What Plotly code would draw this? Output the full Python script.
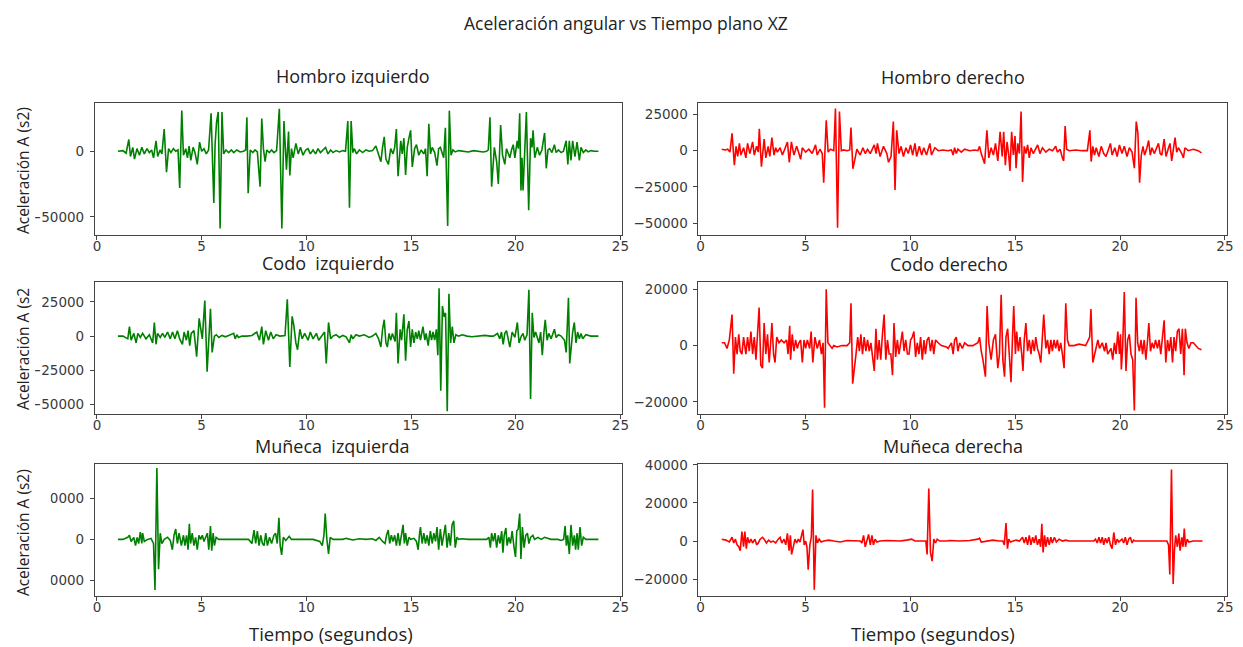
import plotly.graph_objects as go

# ---------------- datos: tiempo (s) y aceleración angular, plano XZ ----------------
t_hombro_izq = [1.00, 1.24, 1.39, 1.52, 1.60, 1.71, 1.79, 1.91, 2.03, 2.14, 2.26, 2.39, 2.50, 2.61, 2.70, 2.82, 2.90, 3.01, 3.10, 3.21,
                3.32, 3.42, 3.53, 3.65, 3.76, 3.87, 3.95, 4.05, 4.13, 4.24, 4.32, 4.40, 4.48, 4.59, 4.68, 4.79, 4.90, 5.00, 5.11, 5.22,
                5.33, 5.45, 5.58, 5.64, 5.71, 5.79, 5.88, 5.97, 6.05, 6.16, 6.29, 6.42, 6.53, 6.68, 6.84, 7.00, 7.10, 7.16, 7.22, 7.32,
                7.44, 7.55, 7.66, 7.79, 7.87, 7.95, 8.03, 8.11, 8.23, 8.34, 8.45, 8.58, 8.71, 8.83, 8.93, 9.05, 9.15, 9.21, 9.29, 9.37,
                9.50, 9.61, 9.72, 9.84, 9.97, 10.08, 10.19, 10.32, 10.44, 10.56, 10.67, 10.79, 10.92, 11.03, 11.16, 11.27, 11.42, 11.58,
                11.74, 11.87, 11.98, 12.06, 12.14, 12.22, 12.29, 12.40, 12.53, 12.69, 12.85, 13.00, 13.16, 13.32, 13.45, 13.56, 13.64,
                13.72, 13.80, 13.92, 14.03, 14.14, 14.22, 14.30, 14.38, 14.51, 14.58, 14.66, 14.74, 14.82, 14.90, 14.98, 15.06, 15.17,
                15.26, 15.37, 15.48, 15.61, 15.69, 15.77, 15.85, 15.93, 16.01, 16.13, 16.24, 16.32, 16.40, 16.48, 16.56, 16.64, 16.75,
                16.83, 16.91, 17.00, 17.11, 17.27, 17.51, 17.74, 17.98, 18.22, 18.45, 18.61, 18.69, 18.77, 18.85, 18.98, 19.09, 19.17,
                19.28, 19.37, 19.48, 19.56, 19.64, 19.72, 19.80, 19.88, 19.96, 20.07, 20.13, 20.19, 20.25, 20.30, 20.35, 20.43, 20.51,
                20.62, 20.71, 20.78, 20.83, 20.91, 21.03, 21.14, 21.25, 21.38, 21.46, 21.54, 21.62, 21.73, 21.85, 21.93, 22.04, 22.17,
                22.28, 22.41, 22.49, 22.56, 22.64, 22.72, 22.83, 22.93, 23.04, 23.12, 23.23, 23.35, 23.46, 23.59, 23.75, 23.95]
a_hombro_izq = [0, 500, -1500, 9000, -4000, 3000, -6000, 2000, -3000, 3000, -2000, 2000, -1000, 1000, -5000, 8000, -4000, 1000, -2000, 17000,
                -16000, 2000, -1000, 2000, 0, 1000, -28000, 31000, -3000, 2000, -5000, 4000, -7000, 3000, -1000, -10000, 7000, 0, 2000, -2000,
                1000, 29000, -39500, 5000, 22000, 30000, -59000, 30000, -2000, 1000, -1000, 1000, -1000, 1000, -500, 0, 1000, 26000, -32000, 1000,
                -1000, 1000, -500, -27000, 25000, 2000, -8000, 1000, -1000, 1000, -1000, 500, 32500, -59000, 23000, -14000, 15000, -18500, 2000, -5000,
                6000, -2000, 3000, -3000, 1000, 2000, -2000, 1000, -2000, 2000, -1000, 1000, 3000, -2000, 1000, -1000, 500, -500,
                500, 0, 23000, -43000, 23000, -1000, 2000, -2000, 1000, -1000, 1000, 0, 500, 4000, -2000, -8000, 3000,
                11000, -6000, -10000, 2000, -2000, 3000, 17000, -19000, 8000, -2000, 10000, -18000, 3000, 10000, 16000, -12000, 2000,
                5000, -3000, 1000, -2000, 2000, -19000, 21000, -2000, 3000, -1000, -11000, 2000, 3000, -2000, -5000, 18000, -57000,
                31000, -3000, 1000, -500, 500, 0, -500, 500, 0, -500, 0, 1000, 26000, -27000, 3000, -8000, -25000,
                20000, -3000, -10000, 2000, -1000, -5000, 1000, 5000, -5000, 8000, 2000, 29000, -30000, -5000, -30000, 8000, 30000,
                -45000, 10000, 3000, 16000, -5000, 3000, -3000, 1000, 14000, -13000, 1000, 2000, -1000, 5000, -1000, 1000, -1000,
                0, 8000, -10000, 8000, -7000, 8000, -4000, 7000, -7000, 3000, -1000, 1000, -500, 500, 0, 0]

t_hombro_der = [1.01, 1.17, 1.29, 1.40, 1.50, 1.61, 1.69, 1.77, 1.85, 1.92, 2.05, 2.16, 2.24, 2.35, 2.48, 2.56, 2.67, 2.75, 2.80, 2.90,
                3.03, 3.11, 3.22, 3.30, 3.40, 3.50, 3.58, 3.66, 3.79, 3.90, 4.01, 4.14, 4.23, 4.33, 4.45, 4.58, 4.69, 4.77, 4.85, 5.01,
                5.16, 5.32, 5.48, 5.56, 5.69, 5.80, 5.87, 5.99, 6.08, 6.19, 6.35, 6.43, 6.53, 6.62, 6.71, 6.82, 6.98, 7.11, 7.17, 7.26,
                7.37, 7.45, 7.61, 7.74, 7.85, 7.96, 8.09, 8.18, 8.28, 8.37, 8.43, 8.56, 8.72, 8.88, 8.96, 9.08, 9.19, 9.27, 9.35, 9.46,
                9.56, 9.67, 9.79, 9.90, 10.01, 10.11, 10.22, 10.30, 10.43, 10.54, 10.64, 10.77, 10.93, 11.01, 11.17, 11.33, 11.56, 11.80,
                11.96, 12.04, 12.11, 12.19, 12.27, 12.43, 12.59, 12.83, 13.07, 13.22, 13.30, 13.38, 13.54, 13.65, 13.74, 13.85, 13.96,
                14.06, 14.17, 14.28, 14.38, 14.45, 14.53, 14.61, 14.69, 14.75, 14.83, 14.91, 14.99, 15.04, 15.12, 15.20, 15.28, 15.35,
                15.43, 15.51, 15.59, 15.67, 15.75, 15.86, 15.96, 16.07, 16.18, 16.30, 16.46, 16.62, 16.78, 16.93, 17.01, 17.14, 17.25,
                17.31, 17.38, 17.45, 17.57, 17.88, 18.19, 18.44, 18.56, 18.62, 18.70, 18.78, 18.86, 18.99, 19.10, 19.22, 19.33, 19.46,
                19.54, 19.62, 19.75, 19.86, 19.97, 20.09, 20.20, 20.33, 20.44, 20.57, 20.68, 20.77, 20.85, 20.93, 21.01, 21.09, 21.17,
                21.28, 21.36, 21.44, 21.52, 21.63, 21.75, 21.83, 21.91, 21.99, 22.10, 22.19, 22.31, 22.38, 22.46, 22.54, 22.62, 22.70,
                22.78, 22.94, 23.02, 23.09, 23.25, 23.49, 23.72, 23.88]
a_hombro_der = [1000, 500, 1000, -1000, 12000, -10000, 3000, -4000, 5000, -3000, 2000, -5000, 5000, -2000, 6000, -3000, 3000, -1000, 15000, -11000,
                8000, -5000, 3000, -4000, 9000, -3000, 2000, -1000, 2000, -3000, 1000, 6000, -8000, 6000, -3000, 3000, -2000, -6000, 2000, -1000,
                1000, -2000, 4000, -3000, 1000, -2000, -22000, 21000, -1000, 1000, 0, 29000, -53000, 27000, 0, 500, 0, 500, 16000, -12500,
                -5000, 1000, -3000, 2000, -2000, 1000, -2000, 1000, 4000, -2000, 5000, -4000, 3000, -2000, -8000, -4000, 20000, -27000, 14000, -2000,
                3000, -4000, 2000, -2000, 4000, -3000, 5000, -4000, 3000, -3000, 2000, -3000, 5000, -3000, 2000, 0, 500, 0,
                500, -3000, 2000, -2000, 1000, -1000, 1000, 0, 500, 0, 3000, -2000, -9000, 14000, -5000, 2000, -3000,
                5000, -7000, 13000, -4000, 13000, -10000, 6000, -3000, -14000, 13000, -3000, 10000, -12000, 5000, -2000, 27000, -21500,
                3000, -2000, 4000, -5000, 2000, -2000, 1000, 4000, -2000, 2000, -1000, 1000, 0, 3000, -1000, 1000, -5000,
                -7000, 17000, 1000, 0, 500, 0, 0, 14000, -7500, 3000, -3000, 2000, -4000, 3000, -2000, -4000, 2000,
                5000, -3000, 2000, -4000, 4000, -2000, 3000, -4000, 2000, -1000, -12000, 20000, 12000, -22000, -3000, 3000, -3000,
                2000, 7000, -3000, 2000, -2000, 3000, 5000, -2000, -3000, 8000, -4000, 2000, 5000, -7000, 3000, 9000, -1000,
                2000, -2000, -5000, 2000, 0, 1000, 0, -1500]

t_codo_izq = [1.00, 1.24, 1.47, 1.55, 1.63, 1.76, 1.87, 1.95, 2.07, 2.18, 2.34, 2.50, 2.66, 2.74, 2.82, 2.89, 3.02, 3.13, 3.24, 3.37,
              3.50, 3.61, 3.72, 3.84, 3.95, 4.08, 4.16, 4.27, 4.35, 4.43, 4.50, 4.63, 4.76, 4.88, 5.03, 5.15, 5.26, 5.34, 5.42, 5.50,
              5.61, 5.70, 5.82, 5.97, 6.13, 6.29, 6.53, 6.60, 6.68, 6.76, 6.92, 7.16, 7.40, 7.63, 7.76, 7.87, 7.95, 8.06, 8.19, 8.30,
              8.42, 8.55, 8.74, 8.98, 9.09, 9.21, 9.32, 9.40, 9.50, 9.58, 9.69, 9.80, 9.92, 10.08, 10.19, 10.32, 10.48, 10.59, 10.71,
              10.87, 10.95, 11.06, 11.16, 11.27, 11.42, 11.58, 11.74, 11.90, 12.06, 12.14, 12.22, 12.37, 12.53, 12.77, 13.00, 13.16,
              13.32, 13.45, 13.56, 13.64, 13.72, 13.80, 13.87, 13.95, 14.03, 14.11, 14.24, 14.30, 14.38, 14.48, 14.55, 14.66, 14.74,
              14.82, 14.90, 14.98, 15.06, 15.14, 15.22, 15.30, 15.37, 15.45, 15.57, 15.66, 15.72, 15.82, 15.90, 15.98, 16.05, 16.13,
              16.21, 16.28, 16.34, 16.42, 16.50, 16.58, 16.65, 16.73, 16.81, 16.89, 16.97, 17.05, 17.14, 17.27, 17.46, 17.67, 17.90,
              18.22, 18.53, 18.77, 18.93, 19.04, 19.13, 19.24, 19.32, 19.40, 19.48, 19.56, 19.64, 19.72, 19.83, 19.96, 20.08, 20.16,
              20.27, 20.35, 20.43, 20.54, 20.63, 20.71, 20.79, 20.87, 20.95, 21.03, 21.11, 21.19, 21.27, 21.35, 21.41, 21.50, 21.58,
              21.69, 21.85, 21.93, 22.04, 22.17, 22.33, 22.41, 22.45, 22.52, 22.58, 22.64, 22.72, 22.80, 22.88, 22.96, 23.04, 23.12,
              23.20, 23.35, 23.59, 23.95]
a_codo_izq = [0, 0, -2000, 7000, -3000, 2000, -5000, 2000, -1000, 2000, -2000, 1000, -5000, 10000, -6000, 2000, -1000, 2000, -1000, 3000,
              -2000, 3000, -2000, 4000, -2000, -6000, 3000, -3000, 4000, -7000, 2000, 4000, -15000, 13000, -2000, 26000, -26000, -5000, 20000, -12000,
              0, 1000, -1000, 500, -500, 500, 2000, -2000, 1000, -1000, 0, 0, 500, 3000, -3000, 7000, -6000, 4000, -3000, 3000,
              -2000, 1000, 0, 500, 27000, -22500, 14500, 8000, -5000, -10000, 5000, -2000, 2000, -3000, 3000, -2000, 2000, -3000, 0,
              3000, -20000, 10000, -2000, 0, 1000, -1000, 500, -500, -5000, 1000, -2000, 1000, 0, 1000, -1000, 0,
              2000, -2000, -8000, 5000, 12000, -5000, -8000, 2000, -3000, 2000, -4000, 17000, -20000, 5000, -3000, 16000, -18000,
              5000, 11000, -8000, 5000, -5000, 3000, -2000, 4000, -3000, 7000, -3000, 2000, -7000, 4000, -3000, 3000, -3000,
              5000, -14000, 35000, -40000, 22000, 14000, 17000, -55000, 31000, -5000, 7000, -5000, 1000, 0, 1000, 0, -500,
              0, 500, 0, 0, 1000, 2000, -2000, 3000, -6000, 2000, 4000, -3000, -8000, 3000, -1000, 10000, -5000,
              0, 2000, -3000, 1000, 34000, -46000, 17000, -1000, 3000, -2000, -5000, 3000, -14000, 3000, 12000, -3000, 2000,
              -2000, 5000, -1000, 1000, 0, -3000, -12000, 5000, 28000, -20000, -9000, 3000, 10000, -5000, 3000, -2000, 2000,
              -2000, 1000, 0, 0]

t_codo_der = [1.01, 1.14, 1.26, 1.37, 1.50, 1.58, 1.66, 1.74, 1.82, 1.89, 1.97, 2.05, 2.16, 2.24, 2.32, 2.40, 2.48, 2.56, 2.64, 2.71,
              2.79, 2.87, 2.95, 3.03, 3.11, 3.19, 3.27, 3.35, 3.40, 3.48, 3.55, 3.63, 3.74, 3.85, 3.98, 4.10, 4.17, 4.25, 4.29, 4.37,
              4.45, 4.53, 4.61, 4.69, 4.77, 4.85, 4.93, 5.01, 5.09, 5.20, 5.27, 5.35, 5.45, 5.56, 5.67, 5.76, 5.84, 5.91, 5.99, 6.07,
              6.16, 6.27, 6.35, 6.51, 6.74, 6.98, 7.11, 7.17, 7.25, 7.33, 7.41, 7.49, 7.57, 7.64, 7.72, 7.80, 7.88, 7.96, 8.04, 8.12,
              8.20, 8.28, 8.36, 8.43, 8.51, 8.59, 8.67, 8.75, 8.83, 8.91, 8.99, 9.07, 9.15, 9.22, 9.30, 9.38, 9.46, 9.54, 9.62, 9.70,
              9.78, 9.86, 9.94, 10.01, 10.09, 10.17, 10.25, 10.33, 10.41, 10.49, 10.57, 10.65, 10.72, 10.80, 10.88, 10.96, 11.04, 11.12,
              11.20, 11.32, 11.48, 11.72, 11.80, 11.96, 12.04, 12.11, 12.19, 12.27, 12.35, 12.48, 12.59, 12.75, 12.98, 13.22, 13.30,
              13.38, 13.46, 13.58, 13.66, 13.74, 13.85, 13.96, 14.06, 14.17, 14.25, 14.33, 14.41, 14.49, 14.56, 14.64, 14.72, 14.80,
              14.88, 14.93, 15.01, 15.07, 15.15, 15.23, 15.31, 15.37, 15.43, 15.51, 15.59, 15.67, 15.75, 15.83, 15.91, 15.98, 16.06,
              16.14, 16.22, 16.30, 16.36, 16.46, 16.54, 16.62, 16.70, 16.77, 16.85, 16.93, 17.01, 17.09, 17.17, 17.25, 17.33, 17.41,
              17.49, 17.57, 17.80, 18.04, 18.36, 18.55, 18.61, 18.70, 18.78, 18.86, 18.94, 19.02, 19.15, 19.26, 19.33, 19.41, 19.49,
              19.57, 19.65, 19.73, 19.81, 19.89, 19.97, 20.02, 20.06, 20.12, 20.20, 20.28, 20.36, 20.44, 20.52, 20.60, 20.68, 20.76,
              20.84, 20.92, 21.00, 21.07, 21.15, 21.23, 21.31, 21.37, 21.45, 21.53, 21.61, 21.69, 21.78, 21.86, 21.94, 22.02, 22.10,
              22.18, 22.26, 22.34, 22.42, 22.50, 22.57, 22.65, 22.73, 22.81, 22.89, 22.97, 23.05, 23.11, 23.19, 23.28, 23.38, 23.49,
              23.60, 23.73, 23.88]
a_codo_der = [1000, 1000, -1000, 2000, 11000, -10000, 3000, -3000, 4000, -2000, -3000, 3000, -3000, 3000, -2000, 5000, -3000, 3000, -5000, 5000,
              13500, -7000, -8000, 8000, -3000, 4000, -6000, 2000, 8000, -3000, -6000, 3000, 1000, 2000, 1000, 2000, -3000, 7000, -5000, 4000,
              -2000, 2000, -1000, 1000, 2000, -6000, 2000, -1000, 2000, -1000, 5000, -6000, 3000, -1000, 2000, -3000, 1000, -22000, 20000, 1000,
              0, -1000, 0, -500, 0, 0, 1000, 15000, -13500, -7000, -3000, 3000, -2000, 4000, -3000, 3000, -2000, 2000, -2000, 1000,
              -4000, -9000, 6000, -5000, 2000, -5000, 4000, 11000, -5000, 2000, -3000, -3000, -10500, 8000, -4000, 2000, -3000, 2000, 5000, -2000,
              2000, -3000, -3000, 2000, 3000, 5000, -4000, 1000, -3000, 3000, -5000, 2000, -3000, 2000, 3000, -2000, 2000, -3000,
              2000, 1000, 0, -500, -1000, 1000, -3000, 2000, 3000, -2000, 1000, -1000, 1000, 0, 0, 1000, 3000,
              -2000, -5000, -11000, 14000, 1000, -5000, 2000, 4000, -8000, -3000, 18000, -5000, -11000, 3000, 6000, -3000, -13000,
              5000, 14000, -3000, 5000, -2000, 3000, -3000, -9000, 2000, 8000, -2000, 2000, -3000, 2000, -2000, 3000, -1000,
              -3000, -6000, 2000, 11000, -1000, 2000, -3000, 2000, -2000, 2000, -1000, 2000, -2000, 1000, -3000, -8000, 15000,
              2000, 0, 0, 500, 0, 3000, 13000, -6000, -3000, 0, 2000, -1000, 1000, -2000, 1000, -3000, -2000,
              -1000, -5000, 1000, -3000, 5000, -3000, 4000, -8500, -1000, 19000, -9000, 2000, 4000, -3000, -5000, -23000, 17000,
              1000, -2000, 2000, -3000, 2000, -5000, 2000, 8000, -2000, 1000, -1000, 2000, -1000, 2000, -3000, 2000, 9000,
              -6000, 2000, -2000, 3000, -6000, 3000, -2000, 5000, 6000, -3000, 6000, -10500, 6000, 1000, -1000, 1000, 1000,
              0, -1000, -1500]

t_muneca_izq = [1.00, 1.24, 1.47, 1.55, 1.63, 1.76, 1.84, 1.92, 1.99, 2.07, 2.14, 2.18, 2.26, 2.42, 2.58, 2.70, 2.77, 2.86, 2.94, 3.02,
                3.10, 3.21, 3.37, 3.50, 3.60, 3.68, 3.76, 3.84, 3.92, 4.03, 4.13, 4.20, 4.28, 4.35, 4.41, 4.47, 4.55, 4.63, 4.71, 4.79,
                4.87, 4.95, 5.03, 5.11, 5.19, 5.27, 5.34, 5.42, 5.48, 5.55, 5.61, 5.69, 5.82, 6.21, 6.53, 6.84, 7.24, 7.40, 7.50, 7.58,
                7.66, 7.74, 7.82, 7.90, 7.98, 8.06, 8.14, 8.24, 8.34, 8.45, 8.53, 8.61, 8.69, 8.75, 8.82, 8.90, 9.02, 9.18, 9.29, 9.69,
                10.32, 10.64, 10.76, 10.84, 10.90, 10.98, 11.06, 11.14, 11.27, 11.74, 11.90, 12.22, 12.53, 12.85, 13.16, 13.32, 13.48,
                13.64, 13.76, 13.83, 13.91, 13.98, 14.06, 14.14, 14.22, 14.30, 14.38, 14.46, 14.54, 14.62, 14.68, 14.74, 14.82, 14.90,
                14.98, 15.14, 15.26, 15.34, 15.41, 15.45, 15.53, 15.61, 15.69, 15.77, 15.85, 15.93, 16.01, 16.09, 16.17, 16.24, 16.32,
                16.40, 16.48, 16.56, 16.64, 16.72, 16.80, 16.88, 16.96, 17.04, 17.11, 17.19, 17.27, 17.43, 17.74, 18.22, 18.61, 18.72,
                18.79, 18.85, 18.93, 19.01, 19.09, 19.17, 19.25, 19.33, 19.39, 19.45, 19.53, 19.59, 19.67, 19.75, 19.83, 19.91, 19.99,
                20.05, 20.12, 20.19, 20.25, 20.32, 20.40, 20.48, 20.56, 20.63, 20.71, 20.82, 20.90, 21.06, 21.22, 21.38, 21.69, 22.01,
                22.17, 22.29, 22.36, 22.42, 22.48, 22.56, 22.64, 22.72, 22.80, 22.86, 22.93, 22.99, 23.07, 23.15, 23.23, 23.35, 23.59,
                23.95]
a_muneca_izq = [0, 0, 1000, 2000, -1000, 1000, -3000, 1000, -2000, 3500, -2000, 3000, -1000, 0, 500, -2000, -24500, 34500, -14500, 3000,
                -2000, 0, 1000, -500, -5000, 2000, 5000, -2000, 3000, -3000, 2000, -3000, 2000, -5000, 7500, -2000, 3000, -3000, 1000, -5000,
                2000, 0, 2000, -1000, 1000, 3000, -5000, 6500, -5500, 3000, -3000, 1000, 0, 0, 300, 0, 0, -2000, 4500, -2000,
                4000, -3000, 2000, -2000, -3000, 3000, -3000, 1000, -2000, 2000, 3000, -2000, 10500, -3000, -7500, 1000, -500, 1500, 0, 0,
                0, -1000, -3000, 2000, 12500, 0, -7000, 1000, 0, 0, 500, -300, 300, 0, 300, -500, 1000,
                -1000, -2000, 2000, 4500, -2000, 2000, -1000, 2000, -3000, 3000, -3000, 3000, 7000, -2000, 3000, -3000, 1000,
                0, 500, -1000, -5000, 3000, 6000, -2000, 3000, -2000, 2000, -3000, 4000, -2000, 3000, -1000, 6000, -5000,
                5000, -3000, 2000, 7000, -4000, 3000, -3000, 7000, 9000, -4000, 1000, 0, 300, 0, 0, 0, 1000,
                -4000, 3000, -1000, 3000, -4000, 2000, -2000, 4000, -6500, 2000, 5500, -3000, 1000, -2000, 4000, -3000, -8500,
                4000, 5000, 12500, -9500, 6000, -4000, 2000, 3000, -2000, 1000, 2000, 0, 1000, 0, 1000, 0, 0,
                -500, 0, 6500, -3000, 2000, -7000, 7000, -3000, 2000, -5000, 3000, -5000, 6000, -3000, 1000, 0, 0,
                0]

t_muneca_der = [1.01, 1.21, 1.37, 1.50, 1.58, 1.66, 1.74, 1.82, 1.89, 1.97, 2.05, 2.11, 2.18, 2.24, 2.32, 2.40, 2.48, 2.59, 2.68, 2.75,
                2.84, 2.95, 3.03, 3.14, 3.24, 3.35, 3.46, 3.58, 3.70, 3.79, 3.87, 3.98, 4.06, 4.14, 4.22, 4.28, 4.34, 4.42, 4.50, 4.58,
                4.66, 4.74, 4.82, 4.88, 4.94, 5.01, 5.07, 5.13, 5.21, 5.28, 5.34, 5.42, 5.50, 5.57, 5.65, 5.75, 5.87, 6.11, 6.35, 6.66,
                6.98, 7.30, 7.61, 7.69, 7.77, 7.85, 7.93, 8.01, 8.09, 8.17, 8.24, 8.32, 8.40, 8.56, 8.88, 9.19, 9.51, 9.82, 10.06, 10.22,
                10.46, 10.74, 10.80, 10.88, 10.96, 11.04, 11.12, 11.20, 11.28, 11.40, 11.72, 11.88, 12.35, 12.83, 13.22, 13.30, 13.38,
                13.62, 13.93, 14.25, 14.41, 14.48, 14.56, 14.63, 14.69, 14.77, 14.88, 15.04, 15.20, 15.35, 15.43, 15.51, 15.59, 15.67,
                15.75, 15.83, 15.91, 15.98, 16.06, 16.14, 16.21, 16.27, 16.33, 16.40, 16.46, 16.54, 16.62, 16.70, 16.77, 16.87, 16.96,
                17.09, 17.25, 17.41, 17.57, 18.04, 18.51, 18.75, 18.83, 18.91, 18.99, 19.07, 19.15, 19.22, 19.30, 19.38, 19.46, 19.54,
                19.62, 19.70, 19.78, 19.86, 19.94, 20.09, 20.17, 20.25, 20.33, 20.41, 20.49, 20.57, 20.65, 20.72, 21.04, 21.52, 22.01,
                22.23, 22.31, 22.37, 22.45, 22.53, 22.59, 22.65, 22.73, 22.80, 22.86, 22.94, 23.00, 23.06, 23.12, 23.20, 23.28, 23.49,
                23.72, 23.93]
a_muneca_der = [1000, 500, -500, 2000, -1000, 1000, -2000, -3000, -5000, 5000, -3000, 5000, -4000, 2000, -1000, 1000, -1000, 1000, -2000, -1000,
                1000, 2000, 1000, -1000, 500, -500, 0, -1000, 1000, 2000, -1000, 1000, -2000, 4000, -5000, 3000, -7000, -2000, 1000, -1000,
                1000, -500, 3000, 6000, -2000, 0, -3000, -15000, -2000, 2000, 27000, -25500, 3000, -1000, 1000, -500, 0, 500, 0, -500,
                300, 0, 0, -1000, 3000, -3000, 1000, 3500, -2000, 3000, -2000, 1000, -500, 0, 300, 0, 0, 500, 1000, 0,
                0, 0, -7000, 27500, -6000, -10500, 1000, -1000, 1000, 0, 0, 300, 0, 300, 1000, 1500, -500,
                0, 500, 0, 0, -2000, 9500, -4000, 1000, -500, 0, 500, 0, 2000, -1000, 2000, -2000, 3000,
                -2000, 2000, -1000, 3000, -2000, 1000, -3000, 9000, -6000, 3000, -3000, 2000, -2000, 2000, -1000, 2000, -500,
                1000, 0, 500, 0, 0, 0, 0, 1000, -1000, 2000, -1000, 2000, -2000, 1500, -1000, 2000, -2000,
                -4000, 4500, -2000, 1000, -500, 1000, -1000, 2000, -2000, 1000, 2000, -1000, 500, 0, 0, 0, 0,
                0, -2000, -17500, 37500, -22500, -5000, 3000, -3000, 4000, -5000, 2000, -3000, 6500, -3000, 1000, -500, 0,
                0, 0]

# títulos y escalas de cada panel
titulo_general = "Aceleración angular vs Tiempo plano XZ"
titulos_paneles = ["Hombro izquierdo", "Hombro derecho", "Codo  izquierdo", "Codo derecho",
                   "Muñeca  izquierda", "Muñeca derecha"]
ticks_x = [0, 5, 10, 15, 20, 25]
ticks_y = [[-50000, 0], [-50000, -25000, 0, 25000], [-50000, -25000, 0, 25000],
           [-20000, 0, 20000], [-20000, 0, 20000], [-20000, 0, 20000, 40000]]
rangos_y = [[-63900, 37100], [-58060, 33060], [-57200, 39400],
            [-24350, 22460], [-27200, 36740], [-28580, 40670]]

series = [(t_hombro_izq, a_hombro_izq), (t_hombro_der, a_hombro_der),
          (t_codo_izq, a_codo_izq), (t_codo_der, a_codo_der),
          (t_muneca_izq, a_muneca_izq), (t_muneca_der, a_muneca_der)]
colores = ["#008000", "#ff0000"] * 3

W, H = 1243, 647
dom_x = [[93.5 / W, 624.5 / W], [701 / W, 1233 / W]]
dom_y = [[1 - 230.5 / H, 1 - 96.7 / H], [1 - 411.7 / H, 1 - 278.3 / H], [1 - 595 / H, 1 - 461.5 / H]]

fig = go.Figure()
FONT_TEXTO = "Open Sans"
FONT_TICK = dict(family="DejaVu Sans", size=13.5, color="#3a3a3a")
EJE = "#444444"

for i, ((t, a), color) in enumerate(zip(series, colores)):
    n = "" if i == 0 else str(i + 1)
    fig.add_trace(go.Scatter(x=t, y=a, mode="lines", line=dict(color=color, width=1.6),
                             xaxis="x" + n, yaxis="y" + n, showlegend=False, hoverinfo="x+y"))
    fila, col = divmod(i, 2)
    fig.layout["xaxis" + n] = dict(
        domain=dom_x[col], anchor="y" + n, range=[-0.1, 25.1], tickvals=ticks_x,
        showgrid=False, zeroline=False, showline=True, mirror=True, linecolor=EJE, linewidth=1,
        ticks="outside", ticklen=4, tickcolor=EJE, tickfont=FONT_TICK, ticklabelstandoff=-5)
    fig.layout["yaxis" + n] = dict(
        domain=dom_y[fila], anchor="x" + n, range=rangos_y[i], tickvals=ticks_y[i], tickformat="d",
        showgrid=False, zeroline=False, showline=True, mirror=True, linecolor=EJE, linewidth=1,
        ticks="outside", ticklen=4, tickcolor=EJE, tickfont=FONT_TICK, ticklabelstandoff=3)


def texto(txt, px, py, size, **extra):
    """Anotación centrada en la posición (px, py) en píxeles desde la esquina superior izquierda."""
    return dict(text=txt, x=px / W, y=1 - py / H, xref="paper", yref="paper", showarrow=False,
                xanchor="center", yanchor="middle",
                font=dict(family=FONT_TEXTO, size=size, color="#222222"), **extra)


anot = [texto(titulo_general, 628, 16, 17.5)]
pos_titulos = [(353, 70), (957, 71), (328, 259), (953, 260), (332, 444), (957, 444)]
for txt, (px, py) in zip(titulos_paneles, pos_titulos):
    anot.append(texto(txt, px, py, 18))
for px in (331, 937):
    anot.append(texto("Tiempo (segundos)", px, 633, 18.5))
for txt, py in [("Aceleración A (s2)", 165), ("Aceleración A (s2", 346), ("Aceleración A (s2)", 531)]:
    anot.append(texto(txt, 21, py, 15.5, textangle=-90, bgcolor="white"))

fig.update_layout(
    width=W, height=H, margin=dict(l=0, r=0, t=0, b=0),
    paper_bgcolor="white", plot_bgcolor="white", annotations=anot,
    shapes=[dict(type="rect", xref="paper", yref="paper", x0=0, x1=49 / W,
                 y0=1 - 615 / H, y1=1 - 455 / H, fillcolor="white", line=dict(width=0), layer="above")])

fig.write_html("out.html")
